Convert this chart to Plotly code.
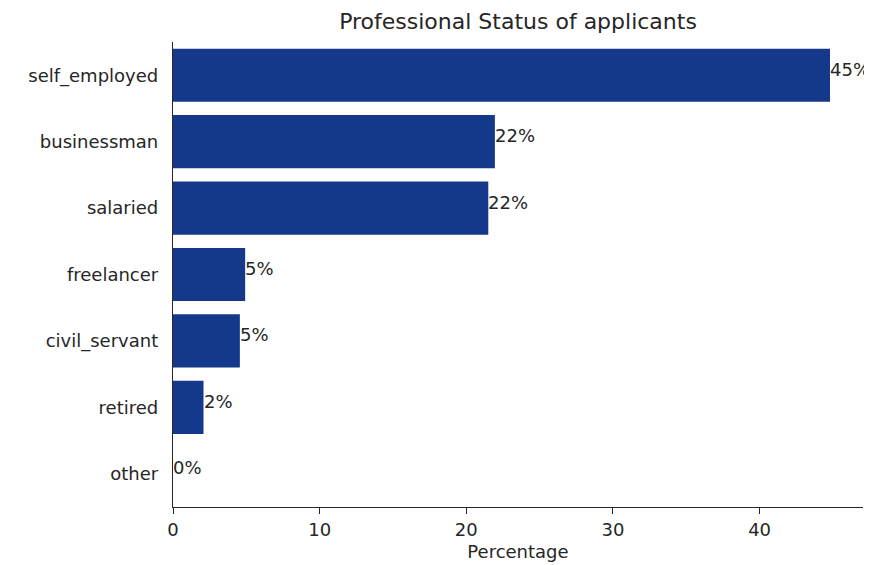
import plotly.graph_objects as go

categories = ["self_employed", "businessman", "salaried", "freelancer", "civil_servant", "retired", "other"]
percentages = [44.8, 21.95, 21.5, 4.92, 4.56, 2.08, 0.0]
x_ticks = [0, 10, 20, 30, 40]

bar_color = "#15398a"
font_family = "DejaVu Sans, Verdana, sans-serif"
text_color = "#262626"

fig = go.Figure()
fig.add_trace(go.Bar(
    x=percentages,
    y=categories,
    orientation="h",
    width=0.8,
    marker=dict(color=bar_color, line=dict(width=0)),
    showlegend=False,
    hoverinfo="x+y",
))

annotations = []
for c, v in zip(categories, percentages):
    annotations.append(dict(
        x=v, y=c, xref="x", yref="y",
        text=f"{v:.0f}%",
        showarrow=False,
        xanchor="left", yanchor="middle",
        xshift=-2, yshift=6,
        font=dict(family=font_family, size=18, color=text_color),
    ))

# the page body adds an offset of about (7, 9) px; margins compensate for it
fig.update_layout(
    width=872, height=565,
    margin=dict(l=165, r=17, t=34, b=66, autoexpand=False),
    paper_bgcolor="white",
    plot_bgcolor="white",
    font=dict(family=font_family, size=18, color=text_color),
    title=dict(
        text="Professional Status of applicants",
        x=510 / 872, xref="container", xanchor="center",
        y=1 - 13 / 565, yref="container", yanchor="middle",
        font=dict(family=font_family, size=22, color=text_color),
        automargin=False,
    ),
    annotations=annotations,
    bargap=0.2,
)

fig.update_xaxes(
    automargin=False,
    range=[0, 47.05],
    tickmode="array", tickvals=x_ticks, ticktext=[str(t) for t in x_ticks],
    showgrid=False, zeroline=False,
    showline=True, linecolor=text_color, linewidth=1.3,
    ticks="outside", ticklen=6, tickwidth=1.3, tickcolor=text_color,
    tickfont=dict(size=18),
    title=dict(text="Percentage", font=dict(size=18), standoff=6),
)
fig.update_yaxes(
    automargin=False,
    range=[6.5, -0.5],
    type="category",
    categoryorder="array", categoryarray=categories,
    showgrid=False, zeroline=False,
    showline=True, linecolor=text_color, linewidth=1.3,
    ticks="", ticklabelstandoff=10,
    tickfont=dict(size=18),
)

fig.write_html("out.html")
